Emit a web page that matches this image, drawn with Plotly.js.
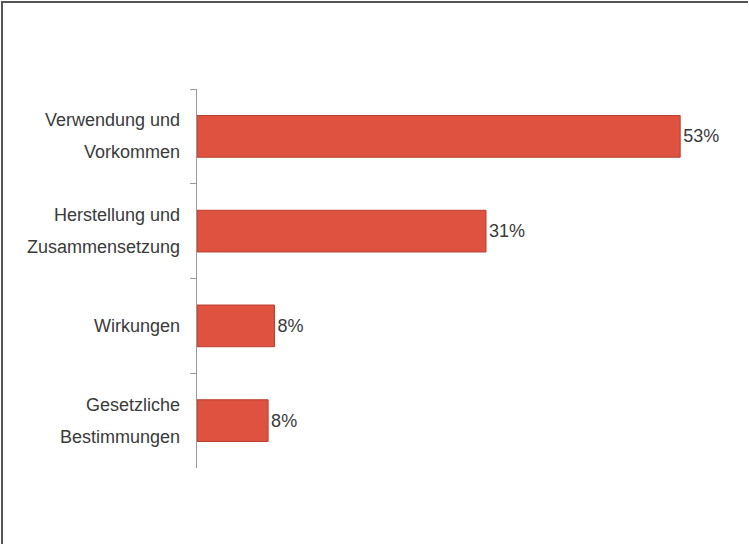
<!DOCTYPE html>
<html>
<head>
<meta charset="utf-8">
<script src="https://cdn.plot.ly/plotly-3.0.1.min.js"></script>
<style>
  html, body { margin: 0; padding: 0; background: #fff; overflow: hidden; width: 749px; height: 544px; }
  #frame { position: absolute; left: 1px; top: 1px; width: 747px; height: 543px;
           border-top: 2px solid #555; border-left: 2px solid #555; box-sizing: border-box; overflow: hidden; }
  #chart { width: 745px; height: 541px; }
</style>
</head>
<body>
<div id="frame"><div id="chart"></div></div>
<script>
// Categories (top to bottom); "<br>" separates the two label lines
const categories = [
  'Verwendung und<br>Vorkommen',
  'Herstellung und<br>Zusammensetzung',
  'Wirkungen',
  'Gesetzliche<br>Bestimmungen'
];
// Bar lengths (percent)
const values = [53, 31.7, 8.5, 7.8];
// Value labels printed next to the bars
const valueLabels = ['53%', '31%', '8%', '8%'];

const FONT = 'Liberation Sans, Arial, sans-serif';
const TEXT_COLOR = '#3a3a3a';

const trace = {
  type: 'bar',
  orientation: 'h',
  y: categories,
  x: values,
  text: valueLabels,
  textposition: 'outside',
  constraintext: 'none',
  cliponaxis: false,
  textfont: { family: FONT, size: 18, color: TEXT_COLOR },
  marker: { color: 'rgb(222,82,63)', line: { color: 'rgb(185,62,47)', width: 1 } },
  hoverinfo: 'none'
};

// Category labels drawn as annotations so the two lines can be spaced widely
const annotations = [];
categories.forEach(function (cat) {
  const lines = cat.split('<br>');
  const n = lines.length;
  lines.forEach(function (line, i) {
    annotations.push({
      xref: 'paper', yref: 'y', x: 0, y: cat,
      text: line, showarrow: false,
      xanchor: 'right', yanchor: 'middle',
      xshift: -15, yshift: (n - 1) * 16 - i * 32,
      font: { family: FONT, size: 18, color: TEXT_COLOR }
    });
  });
});

const layout = {
  width: 745, height: 541,
  margin: { l: 194, r: 4, t: 86, b: 76, pad: 0 },
  paper_bgcolor: '#ffffff',
  plot_bgcolor: '#ffffff',
  showlegend: false,
  bargap: 0.56,
  xaxis: { visible: false, range: [0, 60], fixedrange: true },
  yaxis: {
    type: 'category',
    autorange: 'reversed',
    showticklabels: false,
    showgrid: false,
    zeroline: false,
    showline: true, linecolor: '#9a9a9a', linewidth: 1,
    ticks: 'outside', tickson: 'boundaries', ticklen: 6, tickcolor: '#9a9a9a', tickwidth: 1
  },
  annotations: annotations
};

Plotly.newPlot('chart', [trace], layout, { displayModeBar: false, staticPlot: true });
</script>
</body>
</html>
